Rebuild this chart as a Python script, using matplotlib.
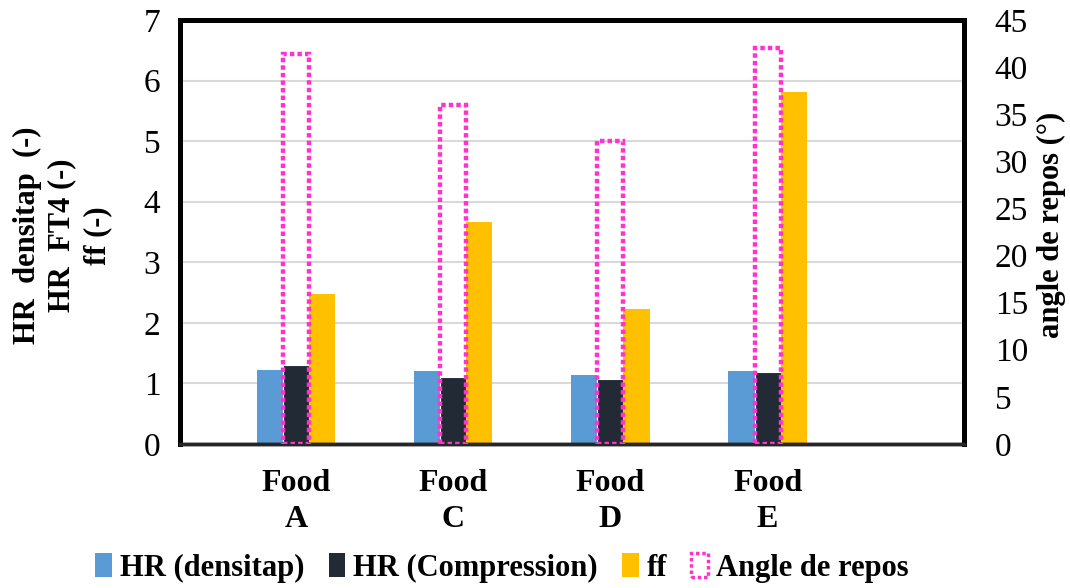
import matplotlib.pyplot as plt
import matplotlib.patches as mpatches
import numpy as np

plt.rcParams['font.family'] = ['Liberation Serif', 'DejaVu Serif']

# data
categories = ['Food\nA', 'Food\nC', 'Food\nD', 'Food\nE']
hr_densitap = [1.22, 1.21, 1.14, 1.20]
hr_compression = [1.30, 1.10, 1.07, 1.19]
ff = [2.48, 3.66, 2.23, 5.81]
angle_repos = [41.4, 36.0, 32.2, 42.0]

c_blue = '#5B9BD5'
c_dark = '#222A35'
c_gold = '#FFC000'
c_pink = '#FF33CC'

fig = plt.figure(figsize=(10.7, 5.88), dpi=100)
ax = fig.add_axes([0.168, 0.245, 0.733, 0.721])
ax2 = ax.twinx()

x = np.arange(len(categories))
w = 0.166

ax.bar(x - w, hr_densitap, w, color=c_blue, zorder=2)
ax.bar(x, hr_compression, w, color=c_dark, edgecolor='white', linewidth=0.8, zorder=2)
ax.bar(x + w, ff, w, color=c_gold, zorder=2)

# angle of repose on the secondary axis, outline only
ax2.bar(x, angle_repos, w, facecolor='none', edgecolor=c_pink, linewidth=3.2,
        linestyle=(0, (1, 0.7)), zorder=3)

ax.set_xlim(-0.74, 4.25)
ax.set_ylim(0, 7)
ax2.set_ylim(0, 45)
ax.set_yticks(range(0, 8))
ax2.set_yticks(range(0, 46, 5))
ax.set_xticks(x)
ax.set_xticklabels(categories, fontsize=23, fontweight='bold', linespacing=1.3)

ax.yaxis.grid(True, color='#D9D9D9', linewidth=1.5, zorder=0)
ax.set_axisbelow(True)

ax.tick_params(axis='y', length=0, labelsize=24, pad=14)
ax2.tick_params(axis='y', length=0, labelsize=24, pad=22)
ax.tick_params(axis='x', length=0, pad=18)

for a in (ax, ax2):
    for side in ('top', 'left', 'right'):
        a.spines[side].set_linewidth(3.5)
        a.spines[side].set_color('black')
    a.spines['bottom'].set_linewidth(2.5)
    a.spines['bottom'].set_color('#262626')

fig.text(0.026, 0.6, 'HR  densitap  (-)', rotation=90, ha='center', va='center',
         fontsize=22, fontweight='bold')
fig.text(0.058, 0.6, 'HR  FT4 (-)', rotation=90, ha='center', va='center',
         fontsize=22, fontweight='bold')
fig.text(0.091, 0.6, 'ff (-)', rotation=90, ha='center', va='center',
         fontsize=22, fontweight='bold')
fig.text(0.983, 0.617, 'angle de repos (°)', rotation=90, ha='center', va='center',
         fontsize=22, fontweight='bold')

handles = [
    mpatches.Patch(facecolor=c_blue, label='HR (densitap)'),
    mpatches.Patch(facecolor=c_dark, label='HR (Compression)'),
    mpatches.Patch(facecolor=c_gold, label='ff'),
    mpatches.Patch(facecolor='none', edgecolor=c_pink, linewidth=2.5,
                   linestyle=(0, (1, 0.8)), label='Angle de repos'),
]
fig.legend(handles=handles, loc='center', bbox_to_anchor=(0.469, 0.034), ncol=4,
           frameon=False, prop={'size': 22, 'weight': 'bold'},
           handlelength=0.55, handleheight=0.8, handletextpad=0.25, columnspacing=0.8)

fig.savefig('out.png', dpi=100)
